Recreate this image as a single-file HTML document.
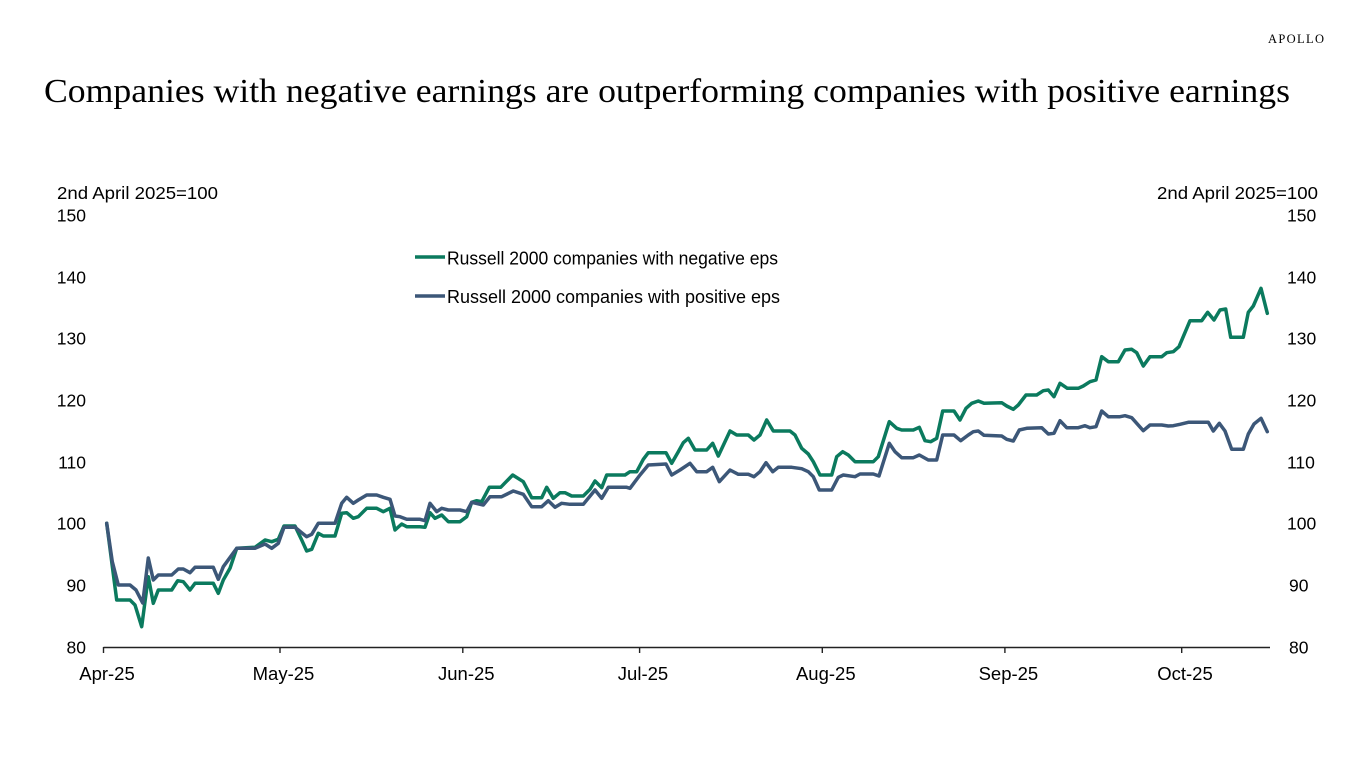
<!DOCTYPE html>
<html>
<head>
<meta charset="utf-8">
<style>
  html,body{margin:0;padding:0;background:#fff;}
  svg{display:block;}
  text{font-family:"Liberation Sans",sans-serif;fill:#000;}
  .serif{font-family:"Liberation Serif",serif;}
</style>
</head>
<body>
<svg width="1366" height="768" viewBox="0 0 1366 768" xmlns="http://www.w3.org/2000/svg">
  <rect width="1366" height="768" fill="#fff"/>
  <!-- Logo -->
  <text class="serif" x="1268" y="43" font-size="12.5" textLength="56" lengthAdjust="spacing" fill="#111">APOLLO</text>
  <!-- Title -->
  <text class="serif" x="44" y="102" font-size="34" textLength="1246" lengthAdjust="spacingAndGlyphs">Companies with negative earnings are outperforming companies with positive earnings</text>

  <!-- Axis titles -->
  <text x="57" y="199" font-size="17.5" textLength="161" lengthAdjust="spacingAndGlyphs">2nd April 2025=100</text>
  <text x="1157" y="199" font-size="17.5" textLength="161" lengthAdjust="spacingAndGlyphs">2nd April 2025=100</text>

  <!-- Left tick labels -->
  <g font-size="17.5" text-anchor="end">
    <text x="86" y="221.5">150</text>
    <text x="86" y="283.5">140</text>
    <text x="86" y="344.5">130</text>
    <text x="86" y="406.5">120</text>
    <text x="86" y="468.5">110</text>
    <text x="86" y="529.5">100</text>
    <text x="86" y="591.5">90</text>
    <text x="86" y="653.5">80</text>
  </g>
  <!-- Right tick labels -->
  <g font-size="17.5" text-anchor="start">
    <text x="1287" y="221.5">150</text>
    <text x="1287" y="283.5">140</text>
    <text x="1287" y="344.5">130</text>
    <text x="1287" y="406.5">120</text>
    <text x="1287" y="468.5">110</text>
    <text x="1287" y="529.5">100</text>
    <text x="1289" y="591.5">90</text>
    <text x="1289" y="653.5">80</text>
  </g>

  <!-- X axis -->
  <line x1="103.5" y1="647.5" x2="1270" y2="647.5" stroke="#222" stroke-width="1.4"/>
  <g stroke="#222" stroke-width="1.4">
    <line x1="103.5" y1="647" x2="103.5" y2="653"/>
    <line x1="280" y1="647" x2="280" y2="653"/>
    <line x1="462.8" y1="647" x2="462.8" y2="653"/>
    <line x1="639.6" y1="647" x2="639.6" y2="653"/>
    <line x1="822.3" y1="647" x2="822.3" y2="653"/>
    <line x1="1004.9" y1="647" x2="1004.9" y2="653"/>
    <line x1="1181.7" y1="647" x2="1181.7" y2="653"/>
  </g>
  <g font-size="18.5" text-anchor="middle">
    <text x="107" y="680">Apr-25</text>
    <text x="283.5" y="680">May-25</text>
    <text x="466.3" y="680">Jun-25</text>
    <text x="643" y="680">Jul-25</text>
    <text x="825.8" y="680">Aug-25</text>
    <text x="1008.4" y="680">Sep-25</text>
    <text x="1185" y="680">Oct-25</text>
  </g>

  <!-- Legend -->
  <line x1="415" y1="257" x2="445" y2="257" stroke="#0b7a5e" stroke-width="3.5"/>
  <text x="447" y="264.5" font-size="18.5" textLength="331" lengthAdjust="spacingAndGlyphs">Russell 2000 companies with negative eps</text>
  <line x1="415" y1="296" x2="445" y2="296" stroke="#3c5778" stroke-width="3.5"/>
  <text x="447" y="303" font-size="18.5" textLength="333" lengthAdjust="spacingAndGlyphs">Russell 2000 companies with positive eps</text>

  <!-- Green series (negative eps) -->
  <polyline fill="none" stroke="#0b7a5e" stroke-width="3.5" stroke-linejoin="round" stroke-linecap="round"
    points="106.7,523.3 116.7,600 130,600 135,605 141.7,626.7 148.3,576.7 153.3,603.3 158.3,590 171.7,590 177.7,580.7 183.3,581.7 190,590 195,583.3 213.3,583.3 218.3,593.3 223.3,580 230,568.3 236.7,548.3 255,547.3 265,540 271.7,541.7 278.3,539.3 284,526 295,526 301.7,540 306.7,551 311.7,549.3 318.3,533.3 323.3,536 335,536 341.7,513.3 346.7,512.7 353.3,518.3 358.3,516.7 366.7,508.3 376.7,508.3 383.3,511.7 390,508.3 395,530 401.7,524 406.7,526.7 420,526.7 425,527.3 430,512.7 435,518.3 441.7,515 448.3,521.7 460,521.7 466.7,516.7 471.7,502.3 476.7,500.7 481.7,501.7 489.3,487.3 500.7,487.3 512.7,475 523.3,481.7 531.7,497.7 541.7,497.7 546.7,487.3 553.3,498.3 560,492.7 565,492.7 571.7,496 583.3,496 590,489.3 595,481 601.7,487.7 606.7,475 625,475 630,471.7 636.7,471.7 643.3,459.3 648.3,452.7 666,452.7 671.7,463.3 678.3,451.7 683.3,442.7 688.3,438.3 695,450 706.7,450 712.7,443.3 718.3,456 730,431 736.7,435 748.3,435 754,440 760,435 766.7,420 773.3,431 790,431 795,435 801.7,448.3 808.3,454 813.3,461.7 820,475 831.7,475 836.7,456.7 842.7,451.7 848.3,455 855,461.7 873.3,461.7 878.3,456.7 889.3,421.7 896.7,428.3 901.7,430 913.3,430 919.3,427.3 925,440.7 930.7,441.7 936.7,438.3 942.7,411 954,411 960,420 966,408.3 971.7,403.3 978.3,401 984,403.3 1001.7,402.7 1006.7,406 1013.3,409.3 1018.3,405 1026,395 1036.7,395 1043.3,390.7 1048.3,390 1054,396.7 1060,383.3 1067.3,388.3 1078.3,388.3 1083.3,386 1090,381.7 1096,380 1101.7,356.7 1108.3,361.7 1118.3,361.7 1125,350 1131.7,349.3 1136.7,352.7 1143.3,366 1150,356.7 1161.7,356.7 1166.7,352.7 1173.3,351.7 1179,346.7 1190,320.7 1201.7,320.7 1207.7,312.3 1214,320 1220,310 1225.7,309 1230.7,337.3 1243.3,337.3 1248.3,312.3 1253.3,306 1261,288.3 1267.3,313.3"/>

  <!-- Blue series (positive eps) -->
  <polyline fill="none" stroke="#3c5778" stroke-width="3.5" stroke-linejoin="round" stroke-linecap="round"
    points="106.7,523.3 112.3,561.7 118.3,585 130,585 136,590 142.7,603 148.3,558 153.3,580 158.3,575 171.7,575 178.3,569 183.3,569 190,572.7 195,567.3 213.3,567.3 218.3,579.3 223.3,566.7 236.7,548.3 255,548.3 265,544 271.7,548.3 278.3,543.3 284,527.3 295,527.3 301.7,532.7 306.7,536.7 311.7,534.3 318.3,523.3 335,523.3 341.7,503.3 346.7,497.3 353.3,503.3 358.3,500 366.7,495 376.7,495 383.3,497.3 390,499.3 395,516 400,516.7 406.7,519.3 420,519.3 425,520.7 430,503.3 436.7,511.7 441.7,508.3 448.3,510 460,510 466.7,511.7 471.7,502.3 483.3,505 490,496.7 501.7,496.7 513.3,491 523.3,494.3 531.7,506.7 541.7,506.7 548.3,500.7 555,507.3 561.7,503.3 570,504.3 583.3,504.3 595,490 601.7,498.3 608.3,487.3 626.7,487.3 630,488.3 640,475 648.3,465 666,464 671.7,475 680,470 690,463.3 696.7,471.7 706.7,471.7 712.7,467.3 719.3,481.7 730,470 738.3,474.3 748.3,474.3 754,476.7 760,471.7 766,462.7 772.7,471.7 778.3,467.3 791.7,467.3 801.7,468.7 808.3,471.7 813.3,476.7 819.3,490 831.7,490 838.3,477.3 843.3,475 855,476.7 860,474 873.3,474 879,476 889.3,443.3 895,451.7 901.7,457.7 913.3,457.7 919.3,455 928.3,460 936.7,460 942.7,435 954,435 960.7,440.7 968.3,435 973.3,431.7 978.3,431 984,435.3 1001.7,436 1006.7,439.3 1013.3,441 1019.3,430 1026.7,428.3 1041.7,427.7 1048.3,434 1054,433.3 1060,420.7 1066.7,427.7 1078.3,427.7 1085,425.7 1090,427.7 1096,426.7 1101.7,411 1108.3,416.7 1120,416.7 1125,415.7 1131.7,417.7 1143.3,430.7 1150,425 1161.7,425 1168.3,426 1173.3,425.7 1180,424.3 1188.3,422.3 1208.3,422.3 1213.3,431 1219.3,423.3 1225,431 1231.7,449.3 1243.3,449.3 1248.3,434 1254,424 1261,418.3 1267.3,431.7"/>
</svg>
</body>
</html>
